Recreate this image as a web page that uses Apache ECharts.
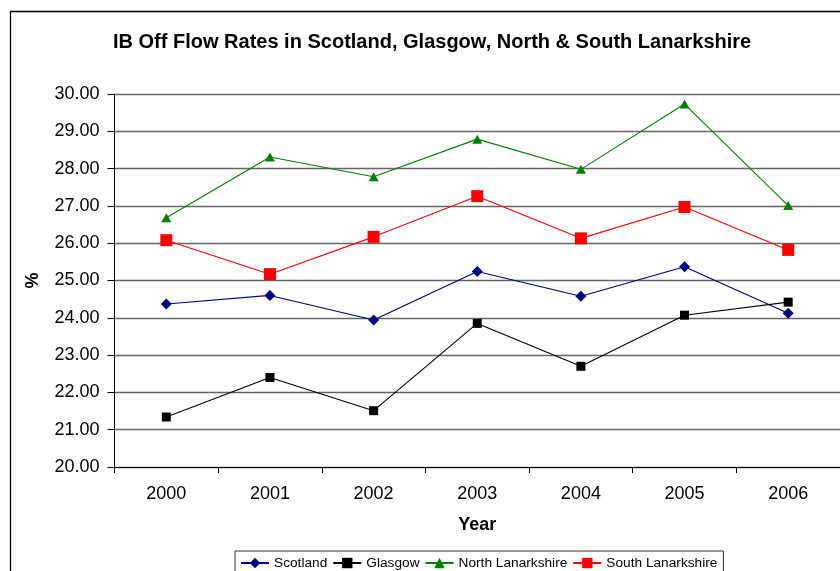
<!DOCTYPE html>
<html>
<head>
<meta charset="utf-8">
<script src="https://cdn.jsdelivr.net/npm/echarts@6/dist/echarts.min.js"></script>
<style>
  html, body { margin: 0; padding: 0; background: #fff; }
  #chart { width: 840px; height: 571px; }
</style>
</head>
<body>
<div id="chart"></div>
<script>
// Incapacity Benefit off-flow rates (%), 2000-2006
const years = ['2000', '2001', '2002', '2003', '2004', '2005', '2006'];
const scotland = [24.37, 24.60, 23.94, 25.24, 24.58, 25.37, 24.12];
const glasgow = [21.34, 22.40, 21.51, 23.85, 22.70, 24.07, 24.42];
const northLanarkshire = [26.68, 28.31, 27.78, 28.79, 27.98, 29.73, 27.01];
const southLanarkshire = [26.08, 25.17, 26.17, 27.26, 26.13, 26.97, 25.82];

const FONT = "'Liberation Sans', Arial, sans-serif";

function lineSeries(name, data, color, symbol, size) {
  return {
    name: name,
    type: 'line',
    data: data,
    symbol: symbol,
    symbolSize: size,
    showAllSymbol: true,
    lineStyle: { color: color, width: 1.1 },
    itemStyle: { color: color, borderWidth: 0 },
    emphasis: { disabled: true },
    animation: false
  };
}

const chart = echarts.init(document.getElementById('chart'), null, { renderer: 'canvas' });
chart.setOption({
  backgroundColor: '#fff',
  animation: false,
  graphic: [{
    type: 'rect',
    shape: { x: 10.5, y: 11.5, width: 842, height: 600 },
    style: { fill: 'none', stroke: '#000', lineWidth: 1.3 },
    z: -1
  }],
  title: {
    text: 'IB Off Flow Rates in Scotland, Glasgow, North & South Lanarkshire',
    left: 113,
    top: 32,
    padding: 0,
    textStyle: { fontFamily: FONT, fontSize: 20, fontWeight: 'bold', color: '#000' }
  },
  legend: {
    left: 235,
    top: 551,
    padding: [5, 6, 5, 5],
    itemGap: 5,
    itemWidth: 28,
    itemHeight: 13,
    borderColor: '#333',
    borderWidth: 1,
    textStyle: { fontFamily: FONT, fontSize: 13.7, color: '#000' },
    data: ['Scotland', 'Glasgow', 'North Lanarkshire', 'South Lanarkshire']
  },
  grid: { left: 114.5, top: 94, right: -4.3, bottom: 104, containLabel: false },
  xAxis: {
    type: 'category',
    data: years,
    boundaryGap: true,
    name: 'Year',
    nameLocation: 'middle',
    nameGap: 49,
    nameTextStyle: { fontFamily: FONT, fontSize: 18, fontWeight: 'bold', color: '#000' },
    axisLine: { lineStyle: { color: '#000', width: 1 } },
    axisTick: { show: true, alignWithLabel: false, length: 6, lineStyle: { color: '#000' } },
    axisLabel: { fontFamily: FONT, fontSize: 18, color: '#000', margin: 18 },
    splitLine: { show: false }
  },
  yAxis: {
    type: 'value',
    min: 20,
    max: 30,
    interval: 1,
    name: '%',
    nameLocation: 'middle',
    nameGap: 72,
    nameTextStyle: { fontFamily: FONT, fontSize: 18, fontWeight: 'bold', color: '#000' },
    axisLine: { show: true, lineStyle: { color: '#000', width: 1 } },
    axisTick: { show: true, length: 7, lineStyle: { color: '#000' } },
    axisLabel: {
      fontFamily: FONT, fontSize: 18, color: '#000', margin: 15,
      formatter: function (v) { return v.toFixed(2); }
    },
    splitLine: { show: true, lineStyle: { color: '#666', width: 1.3 } }
  },
  series: [
    lineSeries('Scotland', scotland, '#000080', 'diamond', 11),
    lineSeries('Glasgow', glasgow, '#000000', 'rect', 9),
    lineSeries('North Lanarkshire', northLanarkshire, '#008000', 'triangle', [10, 9]),
    lineSeries('South Lanarkshire', southLanarkshire, '#ff0000', 'rect', 12)
  ]
});
</script>
</body>
</html>
